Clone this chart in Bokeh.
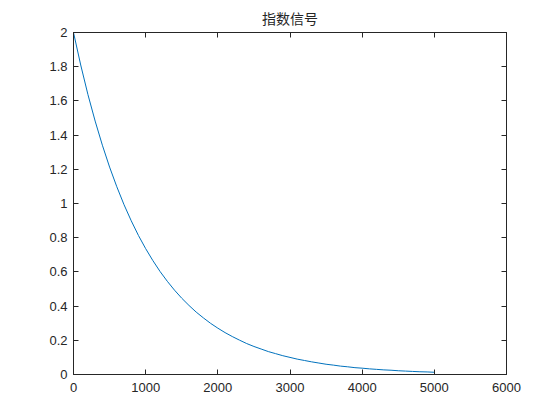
from bokeh.plotting import figure
from bokeh.models import LinearAxis, Range1d, FixedTicker
from bokeh.embed import file_html
from bokeh.resources import INLINE

# Values (every 100 samples)
x_vals = list(range(0, 5001, 100))
y_vals = [2.000, 1.810, 1.637, 1.482, 1.341, 1.213, 1.098, 0.993, 0.899, 0.813,
          0.736, 0.666, 0.602, 0.545, 0.493, 0.446, 0.404, 0.365, 0.331, 0.299,
          0.271, 0.245, 0.222, 0.201, 0.181, 0.164, 0.149, 0.134, 0.122, 0.110,
          0.100, 0.090, 0.082, 0.074, 0.067, 0.060, 0.055, 0.049, 0.045, 0.040,
          0.037, 0.033, 0.030, 0.027, 0.025, 0.022, 0.020, 0.018, 0.016, 0.015,
          0.013]
x_ticks = [0, 1000, 2000, 3000, 4000, 5000, 6000]
y_ticks = [0, 0.2, 0.4, 0.6, 0.8, 1, 1.2, 1.4, 1.6, 1.8, 2]
y_tick_labels = {0: "0", 0.2: "0.2", 0.4: "0.4", 0.6: "0.6", 0.8: "0.8", 1: "1",
                 1.2: "1.2", 1.4: "1.4", 1.6: "1.6", 1.8: "1.8", 2: "2"}
title_text = "指数信号"

AX = "#262626"
FONT = "Liberation Sans"

p = figure(frame_width=433, frame_height=342, output_backend="svg",
           toolbar_location=None, x_range=Range1d(0, 6000), y_range=Range1d(0, 2),
           min_border_left=73, min_border_right=38, min_border_top=24,
           min_border_bottom=38, x_axis_type=None, y_axis_type=None)
p.title.text = title_text
p.title.align = "center"
p.title.text_font = "Noto Sans CJK SC"
p.title.text_font_size = "14px"
p.title.text_font_style = "normal"
p.title.text_color = AX
p.xgrid.visible = False
p.ygrid.visible = False
p.outline_line_color = AX
p.outline_line_width = 1
p.outline_line_alpha = 1
p.background_fill_color = "white"
p.border_fill_color = "white"

def mk_axis(ticks, show_labels, standoff=6, overrides=None):
    ax = LinearAxis(ticker=FixedTicker(ticks=ticks))
    ax.major_tick_in = 5
    ax.major_tick_out = 0
    ax.minor_tick_in = 0
    ax.minor_tick_out = 0
    ax.axis_line_color = AX
    ax.major_tick_line_color = AX
    ax.major_label_text_color = AX
    ax.major_label_text_font = FONT
    ax.major_label_text_font_size = "13px"
    ax.major_label_standoff = standoff
    if overrides:
        ax.major_label_overrides = overrides
    if not show_labels:
        ax.major_label_overrides = {t: "" for t in ticks}
        ax.major_label_standoff = 0
    return ax

p.add_layout(mk_axis(x_ticks, True, standoff=8), "below")
p.add_layout(mk_axis(y_ticks, True, standoff=6, overrides=y_tick_labels), "left")
p.add_layout(mk_axis(x_ticks, False), "above")
p.add_layout(mk_axis(y_ticks, False), "right")

p.line(x_vals, y_vals, line_color="#0072BD", line_width=1)

open("out.html", "w").write(file_html(p, INLINE))
